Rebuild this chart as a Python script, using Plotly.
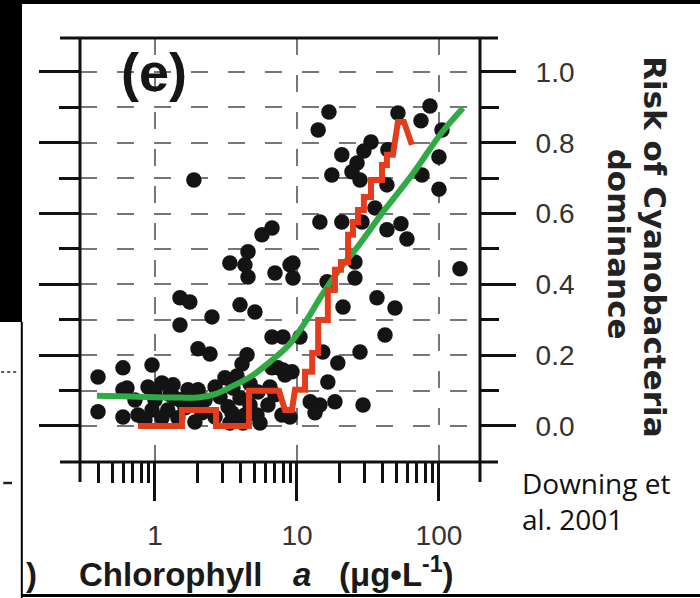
import plotly.graph_objects as go

# ---------------- data ----------------
chl = [16.8, 14.1, 51.4, 86.4, 74.7, 105, 100, 75.9, 100, 33.2, 29.6, 20.7, 43.7, 26.5,
       24.4, 27.8, 17.6, 43.0, 35.4, 14.5, 20.7, 28.7, 43.0, 54.0, 59.5, 140.6, 9.37, 9.37,
       25.6, 25.6, 16.3, 36.6, 49.0, 21.1, 41.7, 10.5, 27.8, 15.2, 19.4, 9.22, 16.5, 12.4,
       14.5, 18.5, 29.2, 13.4, 1.88, 6.67, 5.67, 4.52, 3.37, 4.30, 4.52, 7.0, 8.93, 1.50,
       1.76, 3.97, 5.06, 1.50, 2.52, 2.01, 2.44, 6.67, 7.97, 4.45, 4.10, 7.97, 6.67, 3.11,
       3.78, 4.67, 3.54, 2.87, 3.27, 6.45, 7.0, 5.23, 7.84, 8.93, 3.37, 4.17, 5.49, 8.23,
       7.35, 5.31, 6.25, 3.48, 2.14, 2.65, 2.01, 0.397, 0.397, 0.595, 0.953, 0.595, 0.635,
       0.893, 1.12, 1.34, 1.71, 0.759, 0.953, 1.23, 1.12, 0.85, 1.91, 1.63, 0.595, 1.0,
       1.38, 0.723, 1.28, 1.50, 1.0, 1.45, 1.82, 2.25, 3.97, 4.67, 4.30, 2.65]
risk = [0.887, 0.836, 0.884, 0.904, 0.862, 0.836, 0.760, 0.709, 0.669, 0.802, 0.777, 0.766,
        0.780, 0.743, 0.718, 0.695, 0.709, 0.681, 0.616, 0.576, 0.576, 0.576, 0.554, 0.571,
        0.528, 0.444, 0.460, 0.418, 0.463, 0.418, 0.407, 0.362, 0.333, 0.336, 0.257, 0.251,
        0.209, 0.209, 0.178, 0.153, 0.124, 0.068, 0.059, 0.068, 0.059, 0.037, 0.695, 0.559,
        0.540, 0.492, 0.460, 0.455, 0.421, 0.432, 0.455, 0.362, 0.350, 0.342, 0.322, 0.285,
        0.308, 0.218, 0.203, 0.251, 0.251, 0.201, 0.175, 0.158, 0.164, 0.136, 0.141, 0.119,
        0.107, 0.082, 0.054, 0.110, 0.088, 0.031, 0.031, 0.025, 0.008, 0.008, 0.008, 0.144,
        0.164, 0.096, 0.059, 0.037, 0.037, 0.025, 0.102, 0.138, 0.040, 0.164, 0.172, 0.025,
        0.107, 0.110, 0.121, 0.116, 0.102, 0.031, 0.045, 0.045, 0.023, 0.017, 0.011, 0.051,
        0.102, 0.088, 0.079, 0.073, 0.088, 0.073, 0.073, 0.023, 0.059, 0.073, 0.079, 0.059,
        0.031, 0.110]

fit_x = [0.39, 0.67, 1.0, 1.5, 2.07, 2.65, 3.54, 4.67, 6.45, 8.93, 11.7, 15.2, 20.1, 26.5,
         40.3, 65.6, 101.6, 147.6]
fit_y = [0.085, 0.083, 0.081, 0.080, 0.081, 0.090, 0.113, 0.138, 0.181, 0.232, 0.299, 0.374,
         0.444, 0.504, 0.604, 0.713, 0.822, 0.898]

step_x = [0.759, 1.55, 1.55, 2.69, 2.69, 4.59, 4.59, 7.47, 8.23, 9.22, 9.68, 11.4, 11.4, 12.8,
          12.8, 14.1, 14.1, 16.5, 16.5, 18.5, 18.5, 20.4, 20.4, 22.9, 22.9, 24.8, 24.8, 26.9,
          26.9, 29.6, 29.6, 33.2, 33.2, 39.7, 39.7, 43.0, 43.0, 47.4, 51.4, 56.7, 64.5]
step_y = [0.0, 0.0, 0.045, 0.045, 0.0, 0.0, 0.099, 0.099, 0.045, 0.045, 0.102, 0.102, 0.153,
          0.153, 0.206, 0.206, 0.299, 0.299, 0.384, 0.384, 0.441, 0.441, 0.463, 0.463, 0.540,
          0.540, 0.576, 0.576, 0.610, 0.610, 0.647, 0.647, 0.695, 0.695, 0.737, 0.737, 0.766,
          0.766, 0.859, 0.859, 0.794]

x_major = [1, 10, 100]
x_major_text = ["1", "10", "100"]
x_minor = [0.4, 0.5, 0.6, 0.7, 0.8, 0.9, 2, 3, 4, 5, 6, 7, 8, 9,
           20, 30, 40, 50, 60, 70, 80, 90]
y_major = [0.0, 0.2, 0.4, 0.6, 0.8, 1.0]
y_major_text = ["0.0", "0.2", "0.4", "0.6", "0.8", "1.0"]
y_minor = [0.1, 0.3, 0.5, 0.7, 0.9]

X_RANGE = [-0.528, 2.289]
Y_RANGE = [-0.102, 1.096]

GRID = "#777777"
DASH = "17px,20px"
INK = "#111111"

fig = go.Figure()
fig.add_trace(go.Scatter(x=chl, y=risk, mode="markers",
                         marker=dict(size=15.5, color="#141414", line=dict(width=0)),
                         hoverinfo="skip"))
fig.add_trace(go.Scatter(x=fit_x, y=fit_y, mode="lines", yaxis="y2",
                         line=dict(color="#30aa45", width=6, shape="spline", smoothing=1.0),
                         hoverinfo="skip"))
fig.add_trace(go.Scatter(x=step_x, y=step_y, mode="lines", yaxis="y2",
                         line=dict(color="#e63c1e", width=6),
                         hoverinfo="skip"))

tickfont = dict(family="Liberation Sans, Arial, sans-serif", size=28, color="#333333")

fig.update_layout(
    width=700, height=598,
    margin=dict(l=80, r=220, t=38, b=136),
    paper_bgcolor="white", plot_bgcolor="white",
    showlegend=False,
    xaxis=dict(type="log", range=X_RANGE, tickmode="array", tickvals=x_major,
               ticktext=x_major_text, ticks="outside", ticklen=38, tickwidth=3,
               tickcolor=INK, showgrid=True, gridcolor=GRID, gridwidth=1.5,
               griddash=DASH, showline=False, zeroline=False, tickfont=tickfont,
               ticklabelstandoff=10,
               minor=dict(tickmode="array", tickvals=x_minor, ticks="outside",
                          ticklen=20, tickwidth=3, tickcolor=INK, showgrid=False)),
    yaxis=dict(range=Y_RANGE, tickmode="array", tickvals=y_major, showticklabels=False,
               ticks="outside", ticklen=40, tickwidth=3, tickcolor=INK,
               showgrid=True, gridcolor=GRID, gridwidth=1.5, griddash=DASH,
               showline=False, zeroline=False,
               minor=dict(tickmode="array", tickvals=y_minor, ticks="outside",
                          ticklen=20, tickwidth=3, tickcolor=INK, showgrid=True,
                          gridcolor=GRID, gridwidth=1.5, griddash=DASH)),
    yaxis2=dict(range=Y_RANGE, overlaying="y", side="right", tickmode="array",
                tickvals=y_major, ticktext=y_major_text, ticks="outside", ticklen=35,
                tickwidth=3, tickcolor=INK, showgrid=False, showline=False,
                zeroline=False, tickfont=tickfont, ticklabelstandoff=14,
                minor=dict(tickmode="array", tickvals=y_minor, ticks="outside",
                           ticklen=18, tickwidth=3, tickcolor=INK, showgrid=False)),
)

# frame lines (extend past corners like the original)
frame = dict(color=INK, width=3)
shapes = [
    dict(type="line", xref="paper", yref="paper", x0=-0.05, x1=1.045, y0=1, y1=1, line=frame),
    dict(type="line", xref="paper", yref="paper", x0=-0.05, x1=1.045, y0=0, y1=0, line=frame),
    dict(type="line", xref="paper", yref="paper", x0=0, x1=0, y0=1, y1=-0.047, line=frame),
    dict(type="line", xref="paper", yref="paper", x0=1, x1=1, y0=1, y1=-0.047, line=frame),
    # scan borders
    dict(type="rect", xref="paper", yref="paper", x0=-0.21, x1=1.56, y0=1.0802, y1=1.10,
         fillcolor="black", line=dict(width=0)),
    dict(type="rect", xref="paper", yref="paper", x0=-0.21, x1=-0.145, y0=0.3302, y1=1.10,
         fillcolor="black", line=dict(width=0)),
    dict(type="line", xref="paper", yref="paper", x0=-0.1455, x1=-0.1455, y0=0.3302,
         y1=-0.33, line=dict(color="black", width=2)),
    dict(type="line", xref="paper", yref="paper", x0=-0.145, x1=1.56, y0=-0.3149,
         y1=-0.3149, line=dict(color="black", width=3)),
    # small scan artifacts at the left edge
    dict(type="line", xref="paper", yref="paper", x0=-0.197, x1=-0.152, y0=0.2123,
         y1=0.2123, line=dict(color="#222", width=1.5, dash="dot")),
    dict(type="line", xref="paper", yref="paper", x0=-0.192, x1=-0.170, y0=-0.0495,
         y1=-0.0495, line=dict(color="#222", width=2.5)),
]
fig.update_layout(shapes=shapes)

ann = []
ann.append(dict(text="<b>(e)</b>", x=0.184, y=0.920, xref="paper", yref="paper",
                xanchor="center", yanchor="middle", showarrow=False,
                font=dict(family="Liberation Sans, Arial, sans-serif", size=54, color="#161616")))
ytitle_font = dict(family="DejaVu Sans, sans-serif", size=31, color="#222222")
ann.append(dict(text="<b>Risk of Cyanobacteria</b>", x=1.4385, y=0.508, xref="paper",
                yref="paper", xanchor="center", yanchor="middle", textangle=90,
                showarrow=False, font=ytitle_font))
ann.append(dict(text="<b>dominance</b>", x=1.3485, y=0.514, xref="paper",
                yref="paper", xanchor="center", yanchor="middle", textangle=90,
                showarrow=False, font=ytitle_font))
xt_font = dict(family="Liberation Sans, Arial, sans-serif", size=33, color="#1a1a1a")
ann.append(dict(text="<b>Chlorophyll</b>", x=-0.0075, y=-0.3137, xref="paper", yref="paper",
                xanchor="left", yanchor="bottom", showarrow=False, font=xt_font))
ann.append(dict(text="<b><i>a</i></b>", x=0.554, y=-0.3137, xref="paper", yref="paper",
                xanchor="center", yanchor="bottom", showarrow=False, font=xt_font))
ann.append(dict(text="<b>(μg•L<sup>-1</sup>)</b>", x=0.6425, y=-0.3137, xref="paper",
                yref="paper", xanchor="left", yanchor="bottom", showarrow=False, font=xt_font))
ann.append(dict(text="<b>)</b>", x=-0.1225, y=-0.3137, xref="paper", yref="paper",
                xanchor="center", yanchor="bottom", showarrow=False, font=xt_font))
ann.append(dict(text="Downing et<br>al. 2001", x=1.10, y=-0.091, xref="paper",
                yref="paper", xanchor="left", yanchor="middle", align="left",
                showarrow=False,
                font=dict(family="Open Sans, sans-serif", size=28, color="#111111")))
fig.update_layout(annotations=ann)

fig.write_html("out.html")
